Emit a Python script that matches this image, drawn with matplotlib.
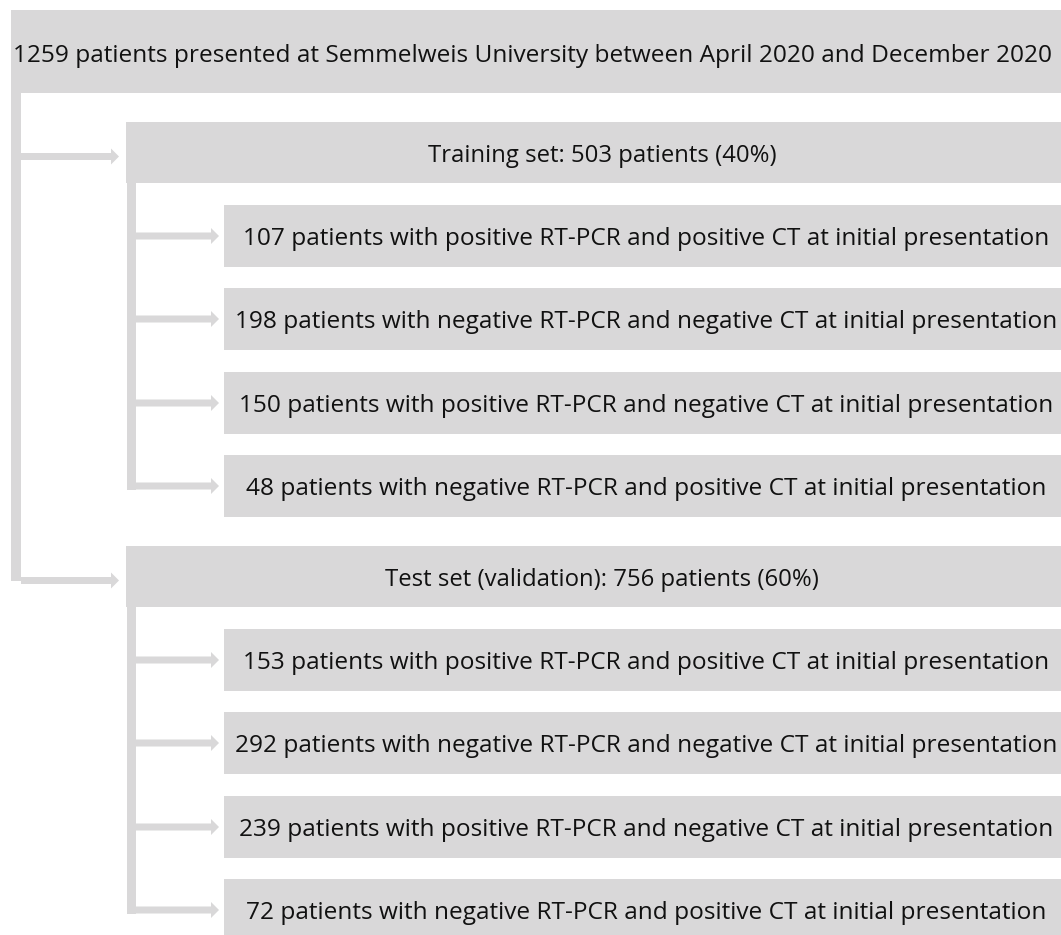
import matplotlib
matplotlib.use('Agg')
import matplotlib.pyplot as plt
from matplotlib.patches import Rectangle, FancyArrow

# Texty diagramu
top_label = "1259 patients presented at Semmelweis University between April 2020 and December 2020"
group_labels = ["Training set: 503 patients (40%)",
                "Test set (validation): 756 patients (60%)"]
training_counts = [107, 198, 150, 48]
test_counts = [153, 292, 239, 72]
sub_templates = [
    "{} patients with positive RT-PCR and positive CT at initial presentation",
    "{} patients with negative RT-PCR and negative CT at initial presentation",
    "{} patients with positive RT-PCR and negative CT at initial presentation",
    "{} patients with negative RT-PCR and positive CT at initial presentation",
]

BOX = '#d9d8d9'
TXT = '#111111'
FONT = 'Open Sans'
W, H = 1061, 935

fig = plt.figure(figsize=(W / 100, H / 100), dpi=100)
ax = fig.add_axes([0, 0, 1, 1])
ax.set_xlim(0, W)
ax.set_ylim(H, 0)
ax.axis('off')


def box(x0, y0, x1, y1, text, size, dx=0, dy=0):
    ax.add_patch(Rectangle((x0, y0), x1 - x0, y1 - y0, facecolor=BOX, edgecolor='none'))
    ax.text((x0 + x1) / 2 + dx, (y0 + y1) / 2 + dy, text, ha='center', va='center',
            fontsize=size, color=TXT, family=FONT)


def arrow(x0, x1, y):
    ax.add_patch(FancyArrow(x0, y, x1 - x0, 0, width=7, head_width=16, head_length=8,
                            length_includes_head=True, color=BOX, lw=0))


group_tops = [122, 546]
sub_tops = [[205, 288, 372, 455], [629, 712, 796, 879]]
counts = [training_counts, test_counts]

# Horní box a hlavní svislá čára
box(11, 10, W + 5, 93, top_label, 17.6, dx=-6, dy=4)
ax.add_patch(Rectangle((11, 93), 10, group_tops[1] + 31 + 4 - 93, facecolor=BOX, edgecolor='none'))

for g, gy in enumerate(group_tops):
    gh = 61
    arrow(21, 119, gy + gh / 2 + 4)
    box(126, gy, W + 5, gy + gh, group_labels[g], 17.2, dx=6, dy=3)
    ys = [t + 31 for t in sub_tops[g]]
    ax.add_patch(Rectangle((127, gy + gh), 9, ys[-1] + 4 - (gy + gh), facecolor=BOX, edgecolor='none'))
    for t, c, tpl in zip(sub_tops[g], counts[g], sub_templates):
        arrow(136, 219, t + 31)
        box(224, t, W + 5, t + 62, tpl.format(c), 17.6, dx=1, dy=3)

fig.savefig('out.png', dpi=100)
